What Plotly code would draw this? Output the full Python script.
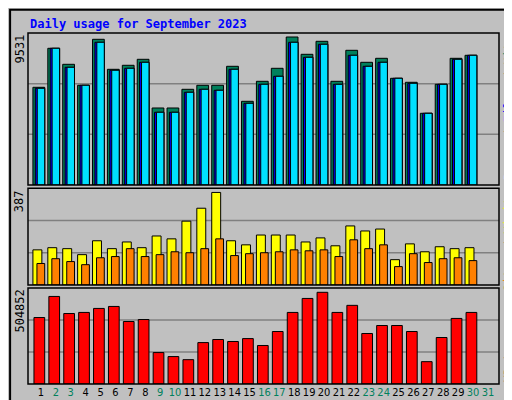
import plotly.graph_objects as go

days = list(range(1, 31))
hits = [6292, 8803, 7773, 6421, 9383, 7451, 7709, 8095, 4959, 4959, 6163, 6421, 6421, 7644, 5390,
        6678, 7515, 9531, 8417, 9254, 6678, 8675, 7902, 8159, 6871, 6614, 4617, 6485, 8159, 8353]
files = [6227, 8803, 7580, 6421, 9190, 7387, 7515, 7902, 4682, 4682, 5970, 6163, 6099, 7451, 5261,
         6485, 7000, 9190, 8224, 9061, 6485, 8353, 7644, 7902, 6871, 6549, 4617, 6485, 8095, 8353]
pages = [6227, 8803, 7580, 6421, 9190, 7387, 7515, 7902, 4682, 4682, 5970, 6163, 6099, 7451, 5261,
         6485, 7000, 9190, 8224, 9061, 6485, 8353, 7644, 7902, 6871, 6549, 4617, 6485, 8095, 8353]
visits = [147, 156, 152, 127, 185, 152, 180, 156, 205, 193, 267, 321, 387, 185, 168,
          209, 209, 209, 180, 197, 164, 247, 226, 234, 106, 172, 139, 160, 152, 156]
sites = [90, 110, 98, 85, 114, 119, 152, 119, 127, 139, 135, 152, 193, 123, 131,
         135, 139, 147, 143, 147, 119, 189, 152, 168, 77, 131, 94, 110, 114, 102]
kbytes = [366000, 482000, 388000, 394000, 416000, 427000, 344000, 355000, 173000, 151000,
          134000, 228000, 245000, 234000, 250000, 212000, 289000, 394000, 471000, 504852,
          394000, 433000, 278000, 322000, 322000, 289000, 123000, 256000, 361000, 394000]
tick_days = list(range(1, 32))
weekend = {2, 3, 9, 10, 16, 17, 23, 24, 30, 31}

fig = go.Figure()
line = dict(color="black", width=1)

def bar(y, color, off, w, xa, ya):
    fig.add_trace(go.Bar(x=days, y=y, marker=dict(color=color, line=line), offset=off, width=w,
                         xaxis=xa, yaxis=ya, showlegend=False, hoverinfo="skip"))

bar(hits, "#00805C", -0.54, 0.79, "x", "y")
bar(files, "#0000FF", -0.38, 0.63, "x", "y")
bar(pages, "#00E0FF", -0.25, 0.5, "x", "y")
bar(visits, "#FFFF00", -0.54, 0.6, "x2", "y2")
bar(sites, "#FF8000", -0.27, 0.52, "x2", "y2")
bar(kbytes, "#FF0000", -0.47, 0.72, "x3", "y3")

xr = [0.13, 31.74]
ticktext = [f'<span style="color:{"#00805C" if d in weekend else "black"}">{d}</span>' for d in tick_days]
common_x = dict(range=xr, showgrid=False, zeroline=False, showline=False, fixedrange=True, automargin=False)
ycommon = dict(showticklabels=False, showgrid=False, zeroline=False, automargin=False)
fig.update_layout(
    width=512, height=400, paper_bgcolor="#C0C0C0", plot_bgcolor="#C0C0C0",
    margin=dict(l=20, r=21, t=25, b=24, autoexpand=False), barmode="overlay",
    font=dict(family="DejaVu Sans Mono", size=11, color="black"),
    xaxis=dict(**common_x, domain=[0, 1], anchor="y", showticklabels=False),
    xaxis2=dict(**common_x, domain=[0, 1], anchor="y2", showticklabels=False),
    xaxis3=dict(**common_x, domain=[0, 1], anchor="y3", tickmode="array", tickvals=tick_days,
                ticktext=ticktext, ticks="", tickangle=0, tickfont=dict(size=11, family="DejaVu Sans Condensed")),
    yaxis=dict(domain=[0.567, 1], range=[0, 9789], **ycommon),
    yaxis2=dict(domain=[0.282, 0.558], range=[0, 405], **ycommon),
    yaxis3=dict(domain=[0, 0.2735], range=[0, 528500], **ycommon),
)

shapes = []
for ya in ["y", "y2", "y3"]:
    for f in (1/3, 2/3):
        shapes.append(dict(type="line", xref="x domain", yref=f"{ya} domain", x0=0, x1=1, y0=f, y1=f,
                           line=dict(color="#808080", width=1.5), layer="below"))
    shapes.append(dict(type="rect", xref="x domain", yref=f"{ya} domain", x0=0, x1=1, y0=0, y1=1,
                       line=dict(color="black", width=1.5), layer="above"))
shapes.append(dict(type="rect", xref="paper", yref="paper", x0=-0.038, x1=1.04, y0=-0.06, y1=1.066,
                   line=dict(color="black", width=2)))
fig.update_layout(shapes=shapes)

def ann(text, yref, y, x, color="black", anchor="top"):
    fig.add_annotation(text=text, xref="paper", yref=yref, x=x, y=y, textangle=-90, showarrow=False,
                       xanchor="center", yanchor=anchor, font=dict(color=color, size=12))

fig.add_annotation(text="<b>Daily usage for September 2023</b>", xref="paper", yref="paper",
                   x=0.0, y=1.026, xanchor="left", yanchor="middle", showarrow=False,
                   font=dict(color="#0000FF", size=12, family="DejaVu Sans Mono"))
ann("9531", "y domain", 1.0, -0.019)
ann("387", "y2 domain", 1.0, -0.019)
ann("504852", "y3 domain", 1.0, -0.019)
ann('<span style="color:#00E0FF">Pages</span> / <span style="color:#0000FF">Files</span> / <span style="color:#00805C">Hits</span>',
    "y domain", 1.0, 1.021)
ann('<span style="color:#FF8000">Sites</span> / <span style="color:#FFFF00">Visits</span>',
    "y2 domain", 1.0, 1.021)
ann('<span style="color:#FF0000">KBytes</span>', "y3 domain", 0.0, 1.021, anchor="bottom")

fig.write_html("out.html")
